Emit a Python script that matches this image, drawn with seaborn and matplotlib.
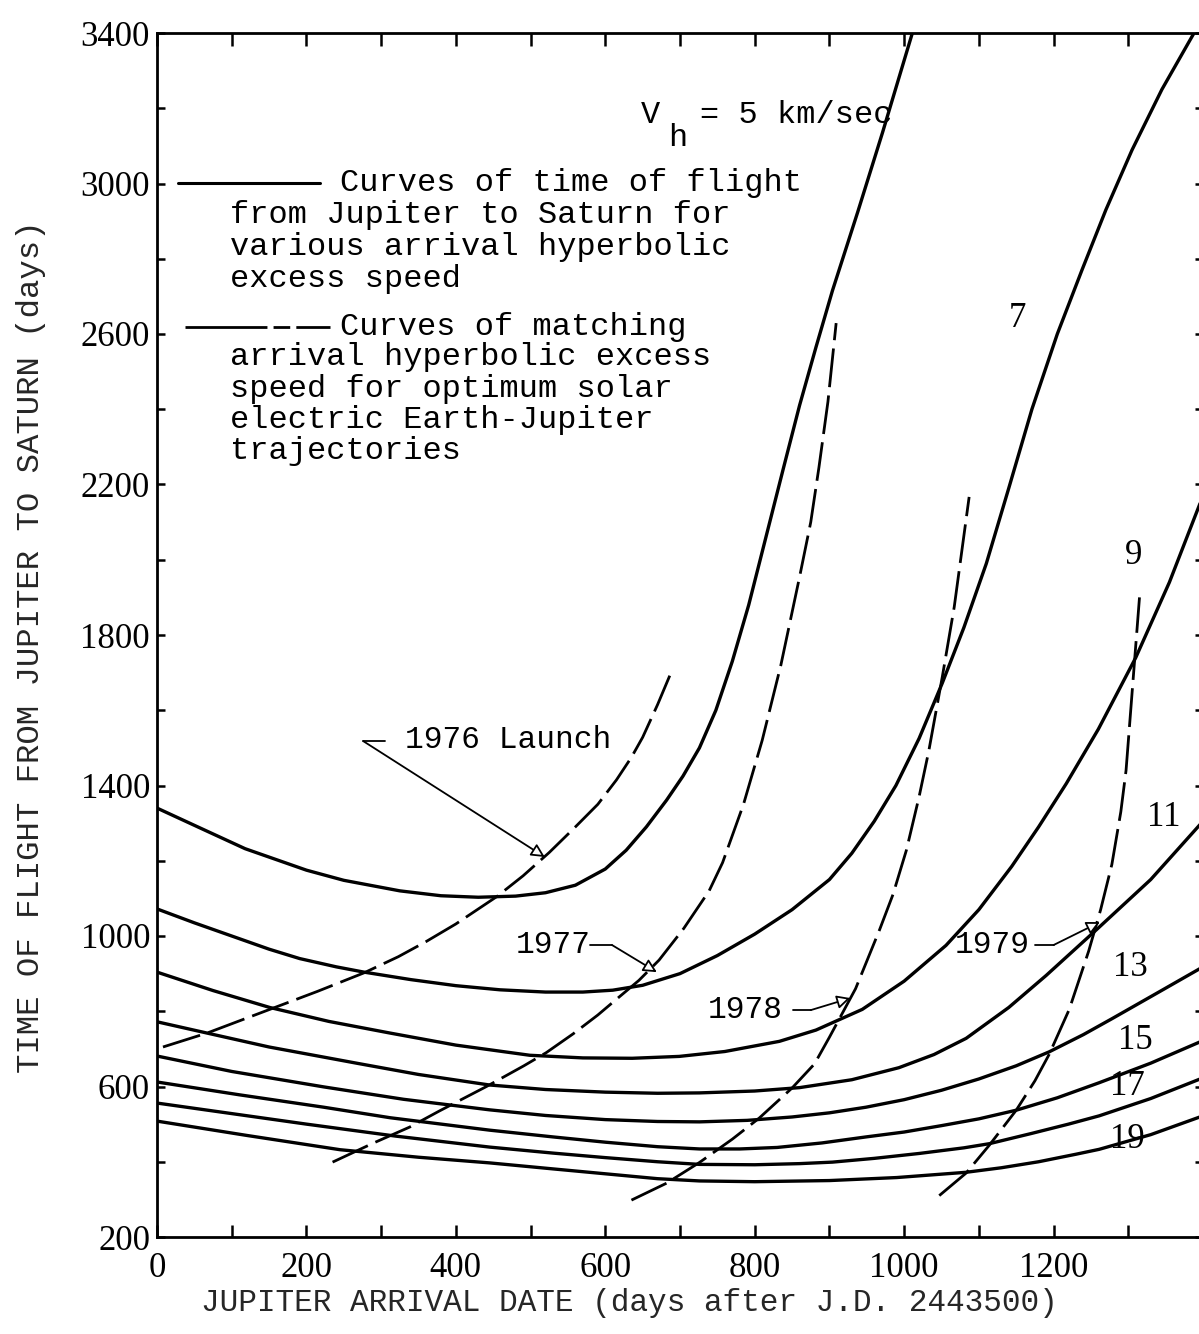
import matplotlib
matplotlib.use("Agg")
import matplotlib.pyplot as plt
import numpy as np
import pandas as pd
import seaborn as sns

# Time of flight from Jupiter to Saturn (days) against Jupiter arrival date,
# one curve per arrival hyperbolic excess speed V_h (km/sec)
vh5_day = [0, 60, 118, 200, 250, 325, 380, 430, 480, 520, 560, 600, 628, 655, 682, 704, 726, 748,
           770, 792, 815, 838, 860, 882, 904, 938, 971, 1011]
vh5_tof = [1340, 1285, 1232, 1175, 1148, 1120, 1107, 1103, 1106, 1115, 1135, 1178, 1228, 1290, 1361, 1425,
           1500, 1600, 1730, 1880, 2060, 2240, 2410, 2565, 2715, 2925, 3135, 3400]

vh7_day = [0, 50, 100, 150, 191, 240, 277, 340, 400, 459, 520, 570, 610, 650, 700, 750, 800, 850, 900,
           930, 960, 989, 1020, 1051, 1080, 1110, 1140, 1171, 1205, 1238, 1270, 1305, 1345, 1388]
vh7_tof = [1072, 1035, 1000, 965, 940, 918, 904, 884, 868, 857, 851, 851, 856, 869, 900, 948, 1005, 1070, 1150,
           1220, 1305, 1400, 1525, 1672, 1820, 1990, 2190, 2400, 2600, 2770, 2930, 3089, 3250, 3400]

vh9_day = [0, 75, 151, 230, 312, 400, 499, 570, 636, 699, 760, 833, 882, 944, 1000, 1056, 1100, 1144,
           1180, 1217, 1260, 1310, 1355, 1400]
vh9_tof = [904, 855, 810, 773, 742, 710, 683, 676, 675, 680, 693, 720, 750, 805, 880, 975, 1070, 1185,
           1290, 1405, 1550, 1740, 1940, 2170]

vh11_day = [0, 67, 150, 267, 350, 445, 520, 600, 670, 726, 800, 860, 930, 993, 1040, 1083, 1140, 1190,
            1257, 1330, 1400]
vh11_tof = [772, 742, 705, 662, 632, 604, 592, 585, 582, 583, 588, 597, 618, 650, 685, 728, 810, 895,
            1016, 1150, 1305]

vh13_day = [0, 100, 223, 330, 445, 520, 600, 670, 726, 790, 850, 900, 949, 1000, 1050, 1100, 1150, 1194,
            1240, 1278, 1340, 1400]
vh13_tof = [681, 640, 599, 566, 538, 523, 512, 507, 506, 510, 519, 530, 545, 565, 590, 620, 655, 692,
            738, 780, 850, 918]

vh15_day = [0, 110, 223, 312, 445, 530, 600, 670, 726, 780, 830, 890, 949, 1000, 1050, 1100, 1150, 1205,
            1261, 1330, 1400]
vh15_tof = [612, 578, 545, 517, 484, 466, 452, 440, 434, 434, 438, 450, 466, 479, 496, 514, 537, 570,
            610, 662, 722]

vh17_day = [0, 100, 200, 320, 445, 530, 600, 670, 726, 800, 860, 904, 960, 1020, 1080, 1114, 1170, 1220,
            1261, 1330, 1400]
vh17_tof = [556, 528, 500, 468, 439, 423, 411, 400, 393, 392, 395, 399, 409, 422, 437, 448, 475, 500,
            522, 568, 623]

vh19_day = [0, 120, 245, 350, 445, 530, 600, 670, 726, 800, 900, 990, 1083, 1130, 1180, 1230, 1261,
            1330, 1400]
vh19_tof = [508, 470, 432, 412, 397, 381, 368, 355, 349, 347, 350, 358, 372, 384, 400, 420, 433,
            472, 522]

# Matching V_h for optimum solar electric Earth-Jupiter trajectories, by launch year
launch1976_day = [8, 67, 151, 215, 277, 323, 360, 400, 455, 490, 525, 560, 590, 615, 635, 650, 670, 688]
launch1976_tof = [705, 742, 805, 853, 902, 945, 985, 1032, 1105, 1160, 1222, 1290, 1350, 1415, 1475,
                  1528, 1615, 1700]

launch1977_day = [235, 290, 338, 378, 441, 491, 521, 557, 590, 615, 645, 672, 705, 739, 757, 785, 810,
                  835, 860, 875, 886, 898, 909]
launch1977_tof = [399, 450, 492, 535, 600, 655, 690, 740, 790, 832, 882, 936, 1020, 1120, 1195, 1350,
                  1520, 1720, 1954, 2100, 2246, 2420, 2629]

launch1978_day = [635, 682, 726, 770, 806, 850, 880, 900, 935, 967, 985, 1003, 1020, 1033, 1051, 1067, 1087]
launch1978_tof = [298, 343, 398, 460, 516, 596, 660, 731, 860, 1016, 1110, 1228, 1370, 1492, 1688, 1874, 2167]

launch1979_day = [1047, 1083, 1114, 1150, 1175, 1194, 1221, 1247, 1263, 1278, 1290, 1297, 1306, 1315]
launch1979_tof = [310, 370, 444, 537, 615, 685, 805, 960, 1070, 1190, 1330, 1440, 1670, 1900]

vh_values = [5, 7, 9, 11, 13, 15, 17, 19]
launch_years = [1976, 1977, 1978, 1979]

x_tick_labels = ["0", "200", "400", "600", "800", "1000", "1200"]
y_tick_labels = ["200", "600", "1000", "1400", "1800", "2200", "2600", "3000", "3400"]

solid = pd.concat([
    pd.DataFrame({"day": d, "tof": t, "vh": v})
    for v, d, t in zip(vh_values,
                       [vh5_day, vh7_day, vh9_day, vh11_day, vh13_day, vh15_day, vh17_day, vh19_day],
                       [vh5_tof, vh7_tof, vh9_tof, vh11_tof, vh13_tof, vh15_tof, vh17_tof, vh19_tof])
], ignore_index=True)

dashed = pd.concat([
    pd.DataFrame({"day": d, "tof": t, "launch": y})
    for y, d, t in zip(launch_years,
                       [launch1976_day, launch1977_day, launch1978_day, launch1979_day],
                       [launch1976_tof, launch1977_tof, launch1978_tof, launch1979_tof])
], ignore_index=True)

sns.set_theme(style="ticks")
mono = ["Liberation Mono", "DejaVu Sans Mono"]
serif = ["Liberation Serif", "DejaVu Serif"]
plt.rcParams["font.family"] = mono
plt.rcParams["axes.linewidth"] = 2.0
plt.rcParams["axes.edgecolor"] = "black"
plt.rcParams["lines.solid_capstyle"] = "round"
plt.rcParams["lines.solid_joinstyle"] = "round"

W, H = 1199, 1334
fig = plt.figure(figsize=(W / 100, H / 100), dpi=100)
fig.patch.set_facecolor("white")
ax = fig.add_axes([157 / W, 1 - 1237 / H, (1203 - 157) / W, (1237 - 33) / H])

sns.lineplot(data=solid, x="day", y="tof", units="vh", estimator=None, sort=False,
             color="black", linewidth=2.4, ax=ax, legend=False)
sns.lineplot(data=dashed, x="day", y="tof", units="launch", estimator=None, sort=False,
             color="black", linewidth=2.0, linestyle=(0, (14, 3)), ax=ax, legend=False)

ax.set_xlim(0, 1400)
ax.set_ylim(200, 3400)

xt = np.arange(0, 1401, 100)
ax.set_xticks(xt)
ax.set_xticklabels([x_tick_labels[i // 2] if (i % 2 == 0 and i // 2 < len(x_tick_labels)) else ""
                    for i in range(len(xt))])
yt = np.arange(200, 3401, 200)
ax.set_yticks(yt)
ax.set_yticklabels([y_tick_labels[i // 2] if i % 2 == 0 else "" for i in range(len(yt))])

ax.tick_params(axis="x", which="major", direction="in", length=9, width=1.8,
               top=True, bottom=True, labelsize=25, pad=11, colors="black")
ax.tick_params(axis="y", which="major", direction="in", length=6, width=1.8,
               left=True, right=True, labelsize=25, pad=5, colors="black")
for lbl in ax.get_xticklabels() + ax.get_yticklabels():
    lbl.set_fontfamily(serif)

ax.set_xlabel("JUPITER ARRIVAL DATE (days after J.D. 2443500)", fontsize=22.4, family=mono)
ax.xaxis.set_label_coords(0.452, -0.0425)
ax.set_ylabel("TIME OF FLIGHT FROM JUPITER TO SATURN (days)", fontsize=23.3, family=mono)
ax.yaxis.set_label_coords(-0.106, 0.49)

txt = dict(fontsize=23, family=mono, color="black", va="center")

# Heading: arrival speed of the limiting curve
ax.text(647, 3182, "V", ha="left", **txt)
ax.text(684, 3121, "h", ha="left", **txt)
ax.text(727, 3182, "= 5 km/sec", ha="left", **txt)

# Key: solid and dashed line samples with their descriptions
ax.plot([28, 218], [3001, 3001], color="black", lw=2.2)
ax.text(245, 3001, "Curves of time of flight", ha="left", **txt)
for i, line in enumerate(["from Jupiter to Saturn for",
                          "various arrival hyperbolic",
                          "excess speed"]):
    ax.text(98, 2916 - 85 * i, line, ha="left", **txt)

ax.plot([37, 232], [2618, 2618], color="black", lw=2.0,
        linestyle=(0, (29.5, 2.2, 6, 2.2, 13.3, 60)))
ax.text(245, 2618, "Curves of matching", ha="left", **txt)
for i, line in enumerate(["arrival hyperbolic excess",
                          "speed for optimum solar",
                          "electric Earth-Jupiter",
                          "trajectories"]):
    ax.text(98, 2538 - 83 * i, line, ha="left", **txt)

# V_h labels for each time-of-flight curve
vh_label_pos = [(1151, 2642), (1307, 2012), (1347, 1316), (1303, 915),
                (1309, 723), (1299, 599), (1299, 458)]
for v, (lx, ly) in zip(vh_values[1:], vh_label_pos):
    ax.text(lx, ly, str(v), ha="center", va="center", fontsize=25, family=serif, color="black")

# Launch-year callouts
arrow = dict(arrowstyle="-|>", color="black", lw=1.3, mutation_scale=20,
             shrinkA=0, shrinkB=0, fc="white")
ytxt = dict(txt, fontsize=22.5)
ax.text(332, 1521, "1976 Launch", ha="left", **ytxt)
ax.plot([305, 276], [1518, 1518], color="black", lw=1.3)
ax.annotate("", xy=(519, 1210), xytext=(276, 1518), arrowprops=arrow)

ax.text(530, 976, "1977", ha="center", **ytxt)
ax.plot([580, 609], [976, 976], color="black", lw=1.3)
ax.annotate("", xy=(669, 904), xytext=(609, 976), arrowprops=arrow)

ax.text(787, 803, "1978", ha="center", **ytxt)
ax.plot([851, 875], [803, 803], color="black", lw=1.3)
ax.annotate("", xy=(928, 835), xytext=(875, 803), arrowprops=arrow)

ax.text(1118, 976, "1979", ha="center", **ytxt)
ax.plot([1175, 1200], [976, 976], color="black", lw=1.3)
ax.annotate("", xy=(1262, 1037), xytext=(1200, 976), arrowprops=arrow)

for s in ["left", "bottom", "top", "right"]:
    ax.spines[s].set_visible(True)
    ax.spines[s].set_linewidth(2.0)
    ax.spines[s].set_color("black")

fig.savefig("out.png", dpi=100, facecolor="white")
